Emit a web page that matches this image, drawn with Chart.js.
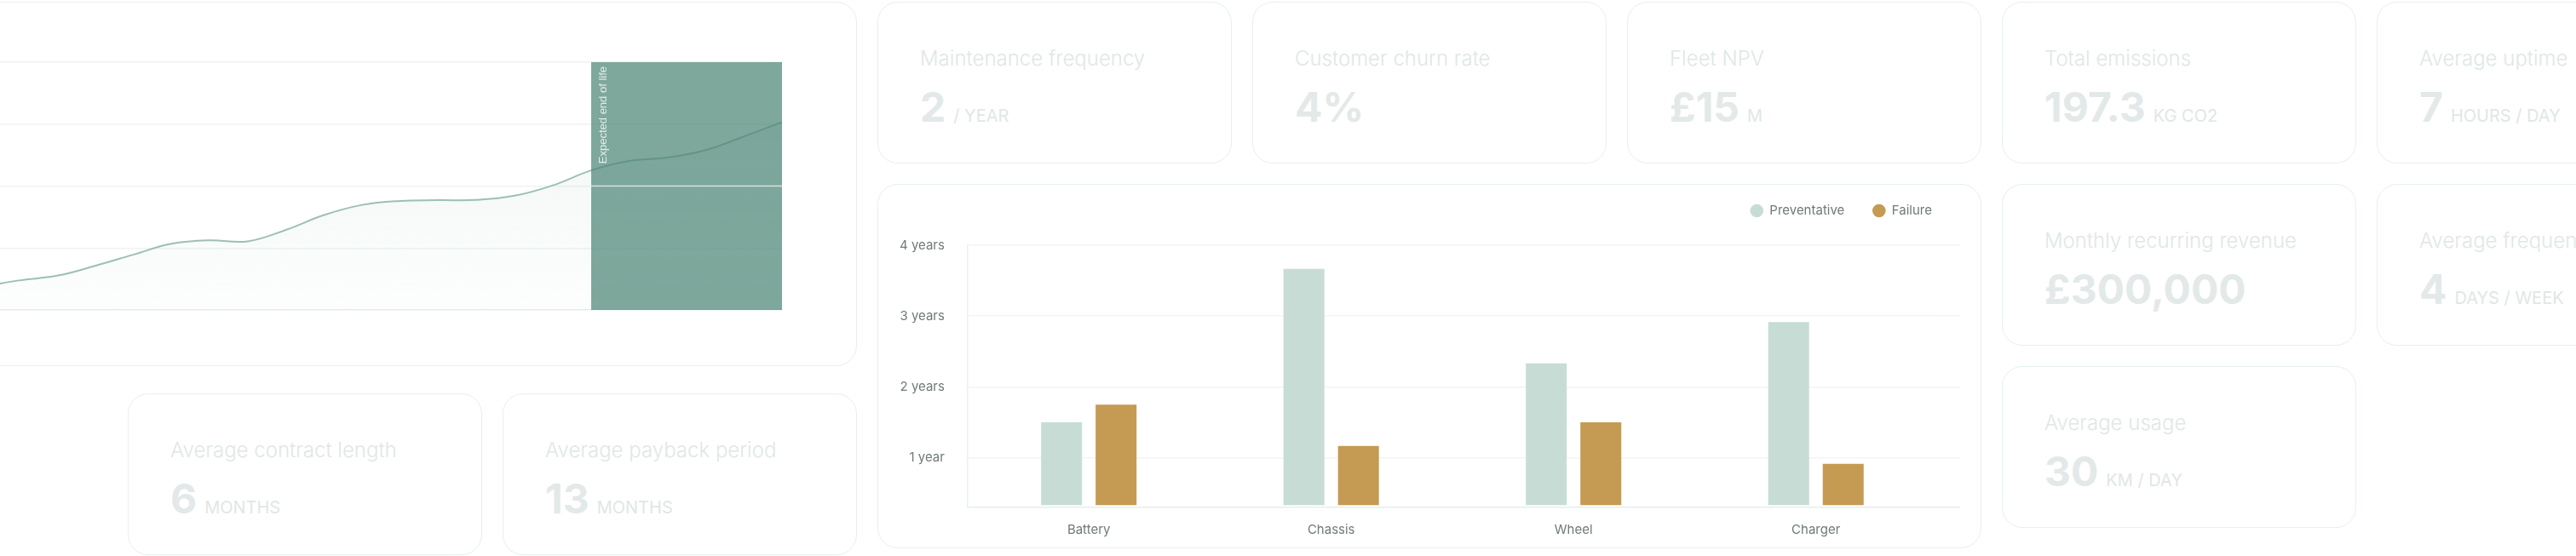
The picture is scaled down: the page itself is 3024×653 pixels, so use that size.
<!DOCTYPE html>
<html lang="en">
<head>
<meta charset="UTF-8">
<title>Fleet overview</title>
<script src="https://cdn.jsdelivr.net/npm/chart.js@4.4.1/dist/chart.umd.min.js"></script>
<style>
  html, body { margin: 0; padding: 0; background: #fff; width: 3024px; height: 653px; overflow: hidden; font-family: Inter, "Noto Sans", sans-serif; }
  .card { position: absolute; box-sizing: border-box; background: #fff; border: 1.5px solid #e6f0ed; border-radius: 24px; }
  .kpi { width: 416px; height: 190px; }
  .kpi .title { position: absolute; left: 49px; top: 54px; font-size: 24px; line-height: 1; font-weight: 300; color: #e0e7e5; white-space: nowrap; }
  .kpi .value { position: absolute; left: 49px; top: 99px; display: flex; align-items: baseline; gap: 9px; line-height: 1; white-space: nowrap; }
  .kpi .num { font-size: 48px; font-weight: 700; color: #e3e9e8; }
  .kpi .unit { font-size: 20px; color: #e0e7e5; text-transform: uppercase; }
  .chart-card { width: 1296px; height: 428px; }
  .chart-card canvas { position: absolute; }
</style>
</head>
<body>

<!-- life curve -->
<div class="card chart-card" style="left:-290px; top:2px;">
  <canvas id="lifeChart" width="1120" height="313" style="left:87px; top:58px;"></canvas>
</div>

<div class="card kpi" style="left:150px; top:462px;">
  <div class="title">Average contract length</div>
  <div class="value"><span class="num">6</span><span class="unit">months</span></div>
</div>
<div class="card kpi" style="left:590px; top:462px;">
  <div class="title">Average payback period</div>
  <div class="value"><span class="num">13</span><span class="unit">months</span></div>
</div>

<div class="card kpi" style="left:1030px; top:2px;">
  <div class="title">Maintenance frequency</div>
  <div class="value"><span class="num">2</span><span class="unit">/ year</span></div>
</div>
<div class="card kpi" style="left:1470px; top:2px;">
  <div class="title">Customer churn rate</div>
  <div class="value"><span class="num">4%</span></div>
</div>
<div class="card kpi" style="left:1910px; top:2px;">
  <div class="title">Fleet NPV</div>
  <div class="value"><span class="num">£15</span><span class="unit">m</span></div>
</div>
<div class="card kpi" style="left:2350px; top:2px;">
  <div class="title">Total emissions</div>
  <div class="value"><span class="num">197.3</span><span class="unit">kg CO2</span></div>
</div>
<div class="card kpi" style="left:2790px; top:2px;">
  <div class="title">Average uptime</div>
  <div class="value"><span class="num">7</span><span class="unit">hours / day</span></div>
</div>

<!-- maintenance bars -->
<div class="card chart-card" style="left:1030px; top:216px;">
  <canvas id="maintChart" width="1272" height="441" style="left:-2px; top:-10px;"></canvas>
</div>

<div class="card kpi" style="left:2350px; top:216px;">
  <div class="title">Monthly recurring revenue</div>
  <div class="value"><span class="num">£300,000</span></div>
</div>
<div class="card kpi" style="left:2790px; top:216px;">
  <div class="title">Average frequency</div>
  <div class="value"><span class="num">4</span><span class="unit">days / week</span></div>
</div>
<div class="card kpi" style="left:2350px; top:430px;">
  <div class="title">Average usage</div>
  <div class="value"><span class="num">30</span><span class="unit">km / day</span></div>
</div>

<script>
  // ---- life curve data ----
  const lifeMonths = ['0', '1', '2', '3', '4', '5', '6', '7', '8', '9', '10', '11', '12',
                      '13', '14', '15', '16', '17', '18', '19', '20', '21', '22', '23', '24', '25'];
  const lifeValues = [2, 4, 5.5, 7.5, 9.3, 11.9, 13.8, 17.8, 22.3, 26.7, 28.1, 27.7, 32.3,
                      38.3, 42.4, 44.0, 44.3, 44.4, 46.1, 50.3, 56.3, 60.1, 61.5, 64.5, 70.0, 75.8];
  const endOfLifeStart = '20';
  const endOfLifeSplit = 50;
  const endOfLifeLabel = 'Expected end of life';

  // ---- maintenance data (months) ----
  const parts = ['Battery', 'Chassis', 'Wheel', 'Charger'];
  const preventative = [18, 44, 28, 35];
  const failure = [21, 14, 18, 11];
  const barBase = 4;
  const axisMin = 3.6;
  const axisMax = 48;
  const yearTicks = [12, 24, 36, 48];
  const yearLabels = ['1 year', '2 years', '3 years', '4 years'];

  Chart.defaults.font.family = 'Inter, "Noto Sans", sans-serif';

  const endOfLifeBox = {
    id: 'endOfLifeBox',
    afterDatasetsDraw(chart) {
      const { ctx, chartArea, scales: { x, y } } = chart;
      const left = x.getPixelForValue(lifeMonths.indexOf(endOfLifeStart));
      const right = chartArea.right;
      ctx.save();
      ctx.fillStyle = 'rgba(72, 131, 116, 0.7)';
      ctx.fillRect(left, chartArea.top, right - left, chartArea.bottom - chartArea.top);
      // split line
      const mid = y.getPixelForValue(endOfLifeSplit);
      ctx.strokeStyle = 'rgba(255, 255, 255, 0.7)';
      ctx.lineWidth = 1.5;
      ctx.beginPath();
      ctx.moveTo(left, mid);
      ctx.lineTo(right, mid);
      ctx.stroke();
      // label
      ctx.translate(left + 14, chartArea.top + 5);
      ctx.rotate(-Math.PI / 2);
      ctx.font = '13px "Liberation Sans", Arial, sans-serif';
      ctx.textAlign = 'right';
      ctx.textBaseline = 'middle';
      ctx.fillStyle = 'rgba(255, 255, 255, 0.78)';
      ctx.fillText(endOfLifeLabel, 0, 0);
      ctx.restore();
    }
  };

  new Chart(document.getElementById('lifeChart'), {
    type: 'line',
    data: {
      labels: lifeMonths,
      datasets: [{
        data: lifeValues,
        borderColor: '#9dbfb5',
        borderWidth: 2,
        pointRadius: 0,
        tension: 0.4,
        fill: 'origin',
        backgroundColor: (c) => {
          const area = c.chart.chartArea;
          if (!area) return 'rgba(157, 189, 180, 0.08)';
          const g = c.chart.ctx.createLinearGradient(0, area.top, 0, area.bottom);
          g.addColorStop(0, 'rgba(157, 189, 180, 0.16)');
          g.addColorStop(1, 'rgba(157, 189, 180, 0.02)');
          return g;
        }
      }]
    },
    options: {
      responsive: false,
      animation: false,
      layout: { padding: { top: 12, bottom: 10 } },
      plugins: { legend: { display: false }, tooltip: { enabled: false } },
      scales: {
        x: { display: false },
        y: {
          min: 0,
          max: 100,
          ticks: { display: false, stepSize: 25 },
          border: { display: false },
          grid: {
            drawTicks: false,
            lineWidth: 1.5,
            color: (c) => c.tick.value === 0 ? '#e2eeea' : (c.tick.value === 100 ? '#eff2f1' : '#edf4f2')
          }
        }
      }
    },
    plugins: [endOfLifeBox]
  });

  // push the plot a little further from the legend
  const legendGap = {
    id: 'legendGap',
    beforeInit(chart) {
      const fit = chart.legend.fit;
      chart.legend.fit = function () {
        fit.bind(chart.legend)();
        this.height += 23;
      };
    }
  };

  const tickColor = '#6f7b79';
  const gridColor = '#f1f5f4';
  const axisColor = '#e3efeb';

  new Chart(document.getElementById('maintChart'), {
    type: 'bar',
    data: {
      labels: parts,
      datasets: [
        { label: 'Preventative', data: preventative, base: barBase, backgroundColor: '#c8dcd6' },
        { label: 'Failure', data: failure, base: barBase, backgroundColor: '#c59a52' }
      ]
    },
    options: {
      responsive: false,
      animation: false,
      categoryPercentage: 0.45,
      barPercentage: 0.75,
      plugins: {
        tooltip: { enabled: false },
        legend: {
          position: 'top',
          align: 'end',
          labels: {
            usePointStyle: true,
            pointStyle: 'circle',
            boxHeight: 11,
            padding: 33,
            color: tickColor,
            font: { size: 15 }
          }
        }
      },
      scales: {
        x: {
          grid: { display: false, drawTicks: false },
          border: { color: axisColor, width: 1.5 },
          ticks: { padding: 17, color: tickColor, font: { size: 15 } }
        },
        y: {
          min: axisMin,
          max: axisMax,
          afterBuildTicks: (scale) => { scale.ticks = yearTicks.map(v => ({ value: v })); },
          ticks: {
            padding: 27,
            color: tickColor,
            font: { size: 15 },
            callback: (v) => yearLabels[yearTicks.indexOf(v)]
          },
          grid: { color: gridColor, lineWidth: 1.5, drawTicks: false },
          border: { color: '#e8f2ef', width: 1.5 }
        },
        // label-less right axis: its tick marks carry the grid lines out to the card edge
        yEdge: {
          position: 'right',
          min: axisMin,
          max: axisMax,
          afterBuildTicks: (scale) => { scale.ticks = [axisMin].concat(yearTicks).map(v => ({ value: v })); },
          ticks: { display: false },
          border: { display: false },
          grid: {
            drawOnChartArea: false,
            drawTicks: true,
            tickLength: 27,
            lineWidth: 1.5,
            color: (c) => c.tick.value === axisMin ? axisColor : gridColor
          }
        }
      }
    },
    plugins: [legendGap]
  });
</script>
</body>
</html>
